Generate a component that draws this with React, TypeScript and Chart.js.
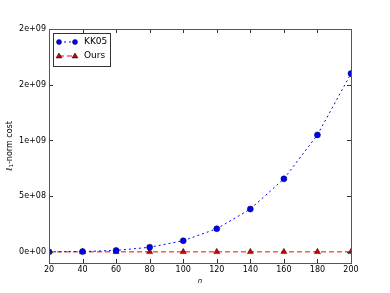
import React, { useEffect, useRef } from "react";
import { Chart, registerables } from "chart.js";

Chart.register(...registerables);

const nValues = [20, 40, 60, 80, 100, 120, 140, 160, 180, 200];
const kk05Values = [1.6e5, 2.56e6, 1.296e7, 4.096e7, 1.0e8, 2.0736e8, 3.8416e8, 6.5536e8, 1.04976e9, 1.6e9];
const oursValues = [400, 1600, 3600, 6400, 10000, 14400, 19600, 25600, 32400, 40000];
const xTickValues = [20, 40, 60, 80, 100, 120, 140, 160, 180, 200];
const yTickValues = [0, 5e8, 1e9, 1.5e9, 2e9];
const yTickLabels = ["0e+00", "5e+08", "1e+09", "2e+09", "2e+09"];
const seriesNames = ["KK05", "Ours"];

const FONT = "DejaVu Sans, sans-serif";

const framePlugin = {
  id: "mplFrame",
  afterDatasetsDraw(chart: any) {
    const { ctx, chartArea: a, scales } = chart;
    const xs = scales.x;
    const ys = scales.y;
    ctx.save();
    ctx.strokeStyle = "#333";
    ctx.lineWidth = 1;
    const tl = 4;
    ctx.beginPath();
    for (const v of xTickValues) {
      const px = Math.round(xs.getPixelForValue(v)) + 0.5;
      ctx.moveTo(px, a.bottom);
      ctx.lineTo(px, a.bottom - tl);
      ctx.moveTo(px, a.top);
      ctx.lineTo(px, a.top + tl);
    }
    for (const v of yTickValues) {
      const py = Math.round(ys.getPixelForValue(v)) + 0.5;
      ctx.moveTo(a.left, py);
      ctx.lineTo(a.left + tl, py);
      ctx.moveTo(a.right, py);
      ctx.lineTo(a.right - tl, py);
    }
    ctx.stroke();
    ctx.strokeStyle = "#555";
    ctx.strokeRect(Math.round(a.left) + 0.5, Math.round(a.top) + 0.5, Math.round(a.right - a.left), Math.round(a.bottom - a.top));

    // axis labels
    ctx.fillStyle = "#000";
    ctx.font = `italic 7px ${FONT}`;
    ctx.textAlign = "center";
    ctx.textBaseline = "middle";
    ctx.fillText("n", (a.left + a.right) / 2, 281);

    ctx.save();
    ctx.translate(10, (a.top + a.bottom) / 2);
    ctx.rotate(-Math.PI / 2);
    ctx.textBaseline = "middle";
    ctx.textAlign = "left";
    const p1 = "ℓ";
    const rest = "-norm cost";
    ctx.font = `italic 8px ${FONT}`;
    const w1 = ctx.measureText(p1).width;
    ctx.font = `5.5px ${FONT}`;
    const w2 = ctx.measureText("1").width;
    ctx.font = `8px ${FONT}`;
    const w3 = ctx.measureText(rest).width;
    let x0 = -(w1 + w2 + w3) / 2;
    ctx.font = `italic 8px ${FONT}`;
    ctx.fillText(p1, x0, 0);
    x0 += w1;
    ctx.font = `5.5px ${FONT}`;
    ctx.fillText("1", x0, 2);
    x0 += w2;
    ctx.font = `8px ${FONT}`;
    ctx.fillText(rest, x0, 0);
    ctx.restore();

    // legend
    const lx = 53.5, ly = 33.5, lw = 57, lh = 33;
    ctx.fillStyle = "#fff";
    ctx.fillRect(lx, ly, lw, lh);
    ctx.strokeStyle = "#333";
    ctx.lineWidth = 1;
    ctx.strokeRect(lx, ly, lw, lh);
    const ds = chart.data.datasets;
    const rows = [42, 56];
    rows.forEach((ry: number, i: number) => {
      const d = ds[i];
      ctx.strokeStyle = d.borderColor;
      ctx.lineWidth = 1;
      ctx.setLineDash(d.borderDash);
      ctx.beginPath();
      ctx.moveTo(59, ry);
      ctx.lineTo(75, ry);
      ctx.stroke();
      ctx.setLineDash([]);
      for (const mx of [59, 75]) {
        ctx.fillStyle = d.pointBackgroundColor;
        ctx.strokeStyle = "#000";
        ctx.lineWidth = 0.5;
        ctx.beginPath();
        if (i === 0) {
          ctx.arc(mx, ry, 2.5, 0, Math.PI * 2);
        } else {
          ctx.moveTo(mx, ry - 3);
          ctx.lineTo(mx + 3, ry + 2);
          ctx.lineTo(mx - 3, ry + 2);
          ctx.closePath();
        }
        ctx.fill();
        ctx.stroke();
      }
      ctx.fillStyle = "#000";
      ctx.font = `9px ${FONT}`;
      ctx.textAlign = "left";
      ctx.textBaseline = "middle";
      ctx.fillText(seriesNames[i], 84, ry);
    });
    ctx.restore();
  },
};

export default function App() {
  const ref = useRef<HTMLCanvasElement | null>(null);
  useEffect(() => {
    document.body.style.margin = "0";
    const canvas = ref.current!;
    const chart = new Chart(canvas, {
      type: "line",
      data: {
        datasets: [
          {
            label: seriesNames[0],
            data: nValues.map((n, i) => ({ x: n, y: kk05Values[i] })),
            borderColor: "#0000ff",
            borderWidth: 1,
            borderDash: [2, 3],
            pointBackgroundColor: "#0000ff",
            pointBorderColor: "#000033",
            pointBorderWidth: 0.5,
            pointRadius: 3,
            pointStyle: "circle",
            clip: 0,
          } as any,
          {
            label: seriesNames[1],
            data: nValues.map((n, i) => ({ x: n, y: oursValues[i] })),
            borderColor: "#ff0000",
            borderWidth: 1,
            borderDash: [5, 3],
            pointBackgroundColor: "#cc0000",
            pointBorderColor: "#330000",
            pointBorderWidth: 0.5,
            pointRadius: 3.5,
            pointStyle: "triangle",
            clip: 0,
          } as any,
        ],
      },
      options: {
        animation: false,
        responsive: false,
        layout: { padding: { top: 29, right: 39, left: 0, bottom: 0 } },
        plugins: { legend: { display: false }, tooltip: { enabled: false } },
        scales: {
          x: {
            type: "linear",
            min: 20,
            max: 200,
            grid: { display: false, drawTicks: false },
            border: { display: false },
            afterBuildTicks: (s: any) => {
              s.ticks = xTickValues.map((v) => ({ value: v }));
            },
            afterFit: (s: any) => {
              s.height = 30;
            },
            ticks: {
              color: "#000",
              font: { family: FONT, size: 8 },
              padding: 2,
              maxRotation: 0,
              callback: (v: any) => String(v),
            },
          },
          y: {
            type: "linear",
            min: -1e8,
            max: 2e9,
            grid: { display: false, drawTicks: false },
            border: { display: false },
            afterBuildTicks: (s: any) => {
              s.ticks = yTickValues.map((v) => ({ value: v }));
            },
            afterFit: (s: any) => {
              s.width = 49;
            },
            ticks: {
              color: "#000",
              font: { family: FONT, size: 8 },
              padding: 3,
              callback: (v: any) => {
                const i = yTickValues.indexOf(Number(v));
                return i >= 0 ? yTickLabels[i] : "";
              },
            },
          },
        },
      },
      plugins: [framePlugin],
    });
    return () => chart.destroy();
  }, []);
  return (
    <div style={{ width: 390, height: 293 }}>
      <canvas ref={ref} width={390} height={293} style={{ display: "block" }} />
    </div>
  );
}
